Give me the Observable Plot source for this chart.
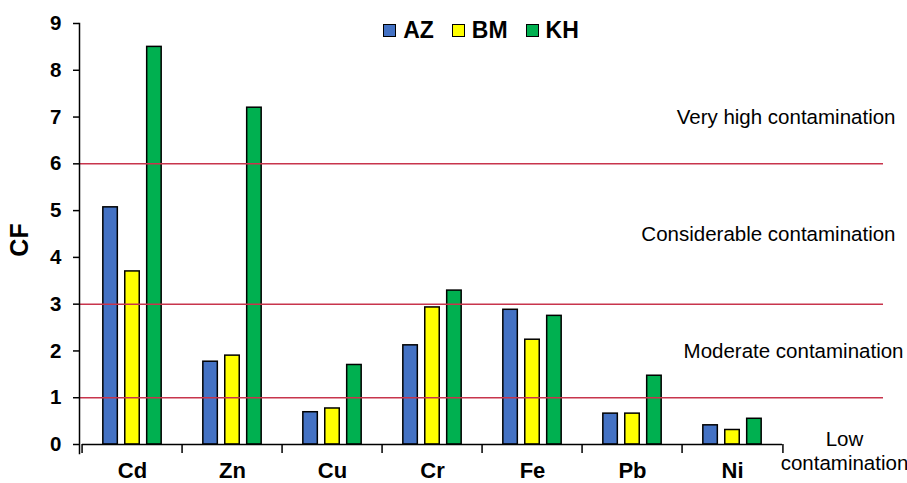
<!DOCTYPE html>
<html>
<head>
<meta charset="utf-8">
<script src="https://cdn.jsdelivr.net/npm/d3@7"></script>
<script src="https://cdn.jsdelivr.net/npm/@observablehq/plot@0.6"></script>
<style>
  html, body { margin: 0; padding: 0; background: #fff; }
  #wrap { position: relative; width: 907px; height: 483px; font-family: "Liberation Sans", Arial, sans-serif; }
  #legend { position: absolute; top: 19px; left: 79px; width: 804px; display: flex; justify-content: center; align-items: center; font-size: 23px; font-weight: bold; line-height: 1; color: #000; }
  #legend .item { display: flex; align-items: center; margin: 0 9px; }
  #legend .sw { width: 11px; height: 11px; border: 1.5px solid #000; margin-right: 7px; }
</style>
</head>
<body>
<div id="wrap"><div id="legend"></div></div>
<script>
const metals = ["Cd", "Zn", "Cu", "Cr", "Fe", "Pb", "Ni"];
const sites = ["AZ", "BM", "KH"];
const siteColors = ["#4472C4", "#FFFF00", "#00B050"];
const azValues = [5.07, 1.77, 0.69, 2.12, 2.88, 0.66, 0.41];
const bmValues = [3.70, 1.90, 0.77, 2.93, 2.24, 0.66, 0.31];
const khValues = [8.50, 7.20, 1.70, 3.29, 2.75, 1.47, 0.55];
const thresholds = [1, 3, 6];
const yTicks = [0, 1, 2, 3, 4, 5, 6, 7, 8, 9];
const zoneLabels = ["Very high contamination", "Considerable contamination", "Moderate contamination", "Low\ncontamination"];
const zoneValues = [7, 4.5, 2, -0.12];
const yLabel = "CF";

const series = [azValues, bmValues, khValues];
const data = [];
metals.forEach((m, i) => sites.forEach((s, j) => data.push({metal: m, site: s, cf: series[j][i]})));
const zones = zoneLabels.map((label, i) => ({label, y: zoneValues[i]}));

const font = "'Liberation Sans', Arial, sans-serif";
const xRange = [79, 785];

// band geometry from the library's own scales
const xScale = Plot.scale({x: {type: "band", domain: metals, range: xRange, padding: 0}});
const bw = xScale.bandwidth;
const inner = Plot.scale({x: {type: "band", domain: sites, range: [0, bw], paddingInner: 0.3, paddingOuter: 0.95}});
const innerBw = inner.bandwidth;

const barMarks = sites.map((s) => {
  const left = inner.apply(s);
  return Plot.barY(data.filter(d => d.site === s), {
    x: "metal", y: "cf", fill: "site", stroke: "#000", strokeWidth: 1.5,
    insetLeft: left, insetRight: bw - left - innerBw
  });
});

const chart = Plot.plot({
  width: 907,
  height: 483,
  marginLeft: 79,
  marginRight: 24,
  marginTop: 23,
  marginBottom: 39,
  style: {fontFamily: font, background: "#fff", color: "#000", overflow: "visible"},
  x: {domain: metals, range: xRange, padding: 0, axis: null},
  y: {domain: [0, 9], axis: null},
  color: {domain: sites, range: siteColors},
  marks: [
    ...barMarks,
    Plot.ruleY(thresholds, {stroke: "#c8344c", strokeWidth: 1.5}),
    Plot.tickY(metals, {x: d => d, y: () => 0, stroke: "#000", strokeWidth: 1.5}),
    Plot.ruleX(metals, {x: d => d, y1: 0, y2: -0.19, dx: -bw / 2, stroke: "#000", strokeWidth: 1.5}),
    Plot.ruleX(metals.slice(-1), {x: d => d, y1: 0, y2: -0.19, dx: bw / 2, stroke: "#000", strokeWidth: 1.5}),
    Plot.frame({anchor: "left", insetBottom: -9, stroke: "#000", strokeWidth: 1.5}),
    Plot.axisY({ticks: yTicks, tickSize: 6, tickPadding: 12, fontSize: 20.5, fontWeight: "bold", label: null, strokeWidth: 1.5}),
    Plot.axisX({anchor: "bottom", tickSize: 0, tickPadding: 18, fontSize: 22, fontWeight: "bold", label: null}),
    Plot.text([yLabel], {text: d => d, frameAnchor: "left", textAnchor: "middle", rotate: -90, dx: -60, dy: 6, fontSize: 25, fontWeight: "bold"}),
    Plot.text(zones.slice(0, 2), {y: "y", text: "label", frameAnchor: "right", textAnchor: "end", dx: 12, fontSize: 20.5}),
    Plot.text(zones.slice(2, 3), {y: "y", text: "label", frameAnchor: "right", textAnchor: "end", dx: 20, fontSize: 20.5}),
    Plot.text(zones.slice(3), {y: "y", text: "label", frameAnchor: "right", textAnchor: "middle", dx: -39, fontSize: 20.5, lineHeight: 1.2})
  ]
});
document.getElementById("wrap").prepend(chart);

const legend = document.getElementById("legend");
sites.forEach((s, i) => {
  const item = document.createElement("div");
  item.className = "item";
  const sw = document.createElement("span");
  sw.className = "sw";
  sw.style.background = siteColors[i];
  const t = document.createElement("span");
  t.textContent = s;
  item.append(sw, t);
  legend.append(item);
});
</script>
</body>
</html>
